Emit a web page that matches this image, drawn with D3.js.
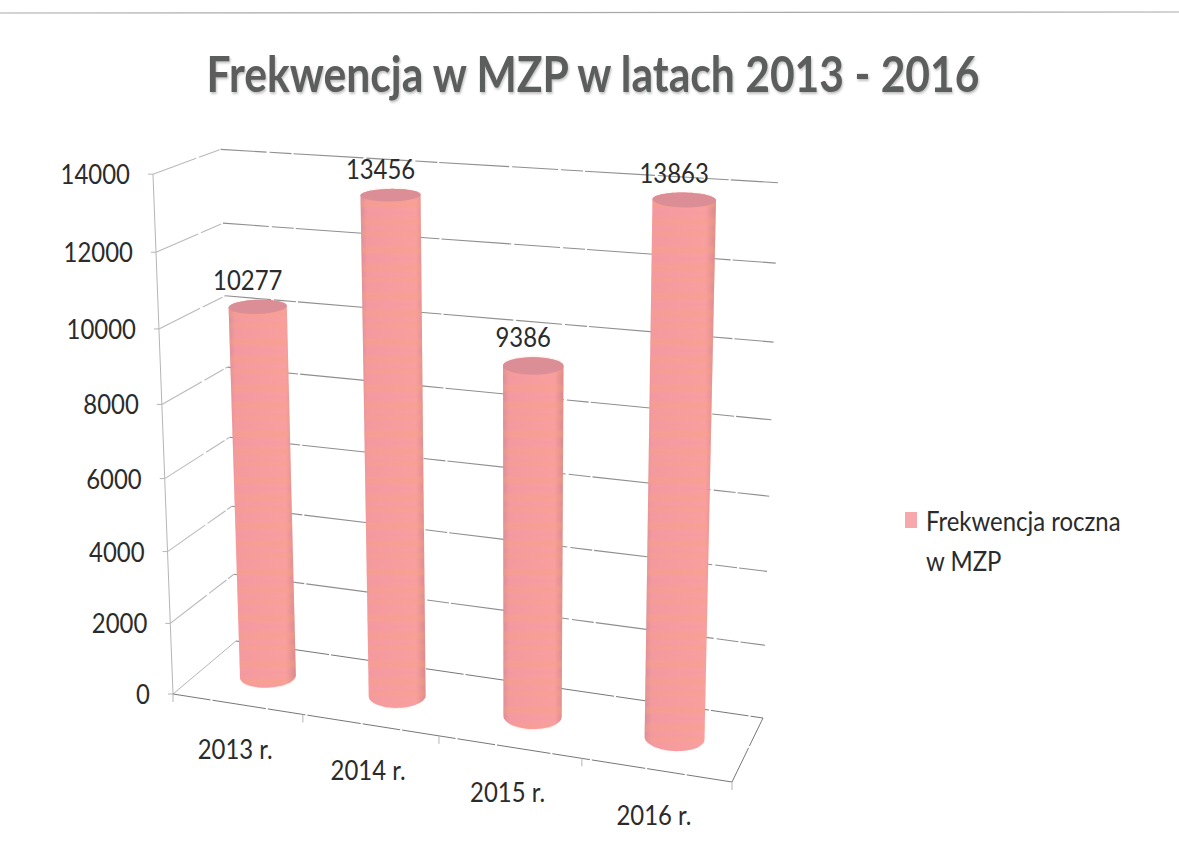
<!DOCTYPE html>
<html>
<head>
    <title>Frekwencja w MZP</title>
    <script src="https://d3js.org/d3.v7.min.js"></script>
    <style>
        html, body { margin: 0; padding: 0; background: #fff; }
        svg { display: block; }
        text { font-family: Lato, "Open Sans", sans-serif; fill: #2b2b2b; }
        .title { font-size: 49px; font-weight: 700; fill: #5b5e5d; filter: drop-shadow(1px 2px 1px rgba(120,120,120,.45)); }
        .tick-label { font-size: 26px; }
        .grid { fill: none; stroke: #8f8f8f; stroke-width: 1.1; stroke-dasharray: 46 3 22 2 70 3; }
        .wall { fill: none; stroke: #b5b5b5; stroke-width: 1; }
        .floor { fill: none; stroke: #777; stroke-width: 1; stroke-dasharray: 38 2 54 2; }
    </style>
</head>
<body>
    <svg width="1179" height="861"></svg>
    <script>
        var chartTitle = "Frekwencja w MZP w latach 2013 - 2016";
        var years = ["2013 r.", "2014 r.", "2015 r.", "2016 r."];
        var frekwencja = [10277, 13456, 9386, 13863];
        var yTicks = [0, 2000, 4000, 6000, 8000, 10000, 12000, 14000];
        var legendLines = ["Frekwencja roczna", "w MZP"];

        var svg = d3.select("svg");

        // floor corners as seen in the picture: front left, front right, back right, back left
        var floorQuad = [[173, 694], [732, 782], [763, 718], [236, 641]];
        // the uprights of the 3d box all run towards this point far below the page
        var nadir = [515, 9580];

        // unit square -> quad
        function quadProject(q) {
            var dx1 = q[1][0] - q[2][0], dx2 = q[3][0] - q[2][0], sx = q[0][0] - q[1][0] + q[2][0] - q[3][0],
                dy1 = q[1][1] - q[2][1], dy2 = q[3][1] - q[2][1], sy = q[0][1] - q[1][1] + q[2][1] - q[3][1],
                den = dx1 * dy2 - dx2 * dy1,
                g = (sx * dy2 - dx2 * sy) / den,
                h = (dx1 * sy - sx * dy1) / den,
                a = q[1][0] - q[0][0] + g * q[1][0],
                b = q[3][0] - q[0][0] + h * q[3][0],
                d = q[1][1] - q[0][1] + g * q[1][1],
                e = q[3][1] - q[0][1] + h * q[3][1];
            return function(u, v) {
                var w = g * u + h * v + 1;
                return [(a * u + b * v + q[0][0]) / w, (d * u + e * v + q[0][1]) / w];
            };
        }

        var floorAt = quadProject(floorQuad);

        var x = d3.scaleBand().domain(years).range([0, 1]);
        var y = d3.scaleLinear().domain([0, 14000]).range([0, 1]);

        function project(u, v, value) {
            var p = floorAt(u, v), t = y(value);
            t = t / (1 + 0.06 * (1 - t)); // upper gridlines sit further apart
            var s = (0.0585 + 0.0054 * u - 0.0035 * v) * t;
            return [p[0] + (p[0] - nadir[0]) * s, p[1] + (p[1] - nadir[1]) * s];
        }

        // Calibri is narrower than Lato, squeeze the glyphs to the same width
        function squeeze(sel, k) {
            sel.each(function() {
                d3.select(this).attr("textLength", this.getComputedTextLength() * k)
                    .attr("lengthAdjust", "spacingAndGlyphs");
            });
        }

        var defs = svg.append("defs");

        var shade = defs.append("linearGradient").attr("id", "shade");
        shade.append("stop").attr("offset", "0%").attr("stop-color", "#d58c9c");
        shade.append("stop").attr("offset", "10%").attr("stop-color", "#f497a6");
        shade.append("stop").attr("offset", "85%").attr("stop-color", "#f99ea6");
        shade.append("stop").attr("offset", "100%").attr("stop-color", "#d6868c");

        // the scan leaves soft horizontal bands on the columns
        var stripes = defs.append("pattern").attr("id", "stripes")
            .attr("patternUnits", "userSpaceOnUse").attr("width", 10).attr("height", 46);
        [[0, 7, .4], [9, 5, .22], [16, 8, .46], [27, 4, .18], [33, 9, .42], [43, 2, .15]].forEach(function(s) {
            stripes.append("rect").attr("y", s[0]).attr("width", 10).attr("height", s[1])
                .attr("fill", "#f7a27c").attr("opacity", s[2]);
        });
        defs.append("filter").attr("id", "soft")
            .append("feGaussianBlur").attr("stdDeviation", "0 1.4");

        // title and the line left by the scanner
        svg.append("line").attr("x1", 0).attr("x2", 1179).attr("y1", 13).attr("y2", 12)
            .attr("stroke", "#a9a9a9").attr("stroke-width", 1.2);
        svg.append("text").attr("class", "title")
            .attr("x", 593).attr("y", 92)
            .attr("text-anchor", "middle")
            .attr("textLength", 773)
            .attr("lengthAdjust", "spacingAndGlyphs")
            .text(chartTitle);

        var segment = d3.line();

        // gridlines on the left and back walls
        yTicks.forEach(function(t) {
            if (t > 0) {
                svg.append("path").attr("class", "grid").style("stroke", "#b9b9b9")
                    .attr("d", segment([project(0, 0, t), project(0, 1, t)]));
                svg.append("path").attr("class", "grid")
                    .attr("d", segment([project(0, 1, t), project(1, 1, t)]));
            }
            var p = project(0, 0, t);
            svg.append("path").attr("class", "wall").attr("d", segment([[p[0] - 5, p[1]], p]));
            svg.append("text").attr("class", "tick-label")
                .attr("x", p[0] - 23).attr("y", p[1] + 10)
                .attr("text-anchor", "end")
                .text(t)
                .call(squeeze, 0.92);
        });

        // left wall edge
        svg.append("path").attr("class", "wall").attr("d", segment([project(0, 0, 0), project(0, 0, 14000)]));

        // floor
        svg.append("path").attr("class", "wall").attr("d", segment([project(0, 0, 0), project(0, 1, 0)]));
        svg.append("path").attr("class", "floor").attr("d", segment([project(0, 1, 0), project(1, 1, 0)]));
        svg.append("path").attr("class", "floor").attr("d", segment([project(0, 0, 0), project(1, 0, 0)]));
        svg.append("path").attr("class", "floor").attr("d", segment([project(1, 0, 0), project(1, 1, 0)]));

        // category ticks and labels
        years.forEach(function(c, i) {
            var p = project(x(c), 0, 0);
            svg.append("path").attr("class", "wall").attr("d", segment([p, [p[0], p[1] + 8]]));
            var m = project(x(c) + x.bandwidth() / 2, 0, 0);
            svg.append("text").attr("class", "tick-label")
                .attr("x", m[0] - 2).attr("y", m[1] + 55)
                .attr("text-anchor", "middle")
                .text(c)
                .call(squeeze, 0.92);
        });
        var pEnd = project(1, 0, 0);
        svg.append("path").attr("class", "wall").attr("d", segment([pEnd, [pEnd[0], pEnd[1] + 8]]));

        // columns
        var ru = 0.05, rv = 0.2;
        var angles = d3.range(0, 360, 6).map(function(a) { return a * Math.PI / 180; });

        function ring(c, value) {
            var u = x(c) + x.bandwidth() / 2;
            return angles.map(function(a) {
                return project(u + ru * Math.cos(a), 0.5 + rv * Math.sin(a), value);
            });
        }

        var ringPath = d3.line().curve(d3.curveLinearClosed);

        years.forEach(function(c, i) {
            var bottom = ring(c, 0),
                cap = ring(c, frekwencja[i]),
                hull = d3.polygonHull(bottom.concat(cap)),
                g = svg.append("g");

            g.append("path").attr("d", ringPath(hull)).attr("fill", "url(#shade)");
            g.append("path").attr("d", ringPath(hull)).attr("fill", "url(#stripes)").attr("filter", "url(#soft)");
            g.append("path").attr("d", ringPath(cap)).attr("fill", "#dc8e96");

            var head = project(x(c) + x.bandwidth() / 2, 0.5, frekwencja[i]),
                topEdge = d3.min(cap, function(p) { return p[1]; });
            svg.append("text").attr("class", "tick-label")
                .attr("x", head[0] - 10).attr("y", topEdge - 10)
                .attr("text-anchor", "middle")
                .text(frekwencja[i])
                .call(squeeze, 0.92);
        });

        // legend
        svg.append("rect").attr("x", 905).attr("y", 512).attr("width", 12).attr("height", 16)
            .attr("fill", "#f7a8ac");
        svg.selectAll(".legend-label").data(legendLines).enter().append("text")
            .attr("class", "legend-label")
            .attr("x", 926)
            .attr("y", function(d, i) { return 531 + i * 40; })
            .style("font-size", "26px")
            .text(function(d) { return d; })
            .call(squeeze, 0.92);
    </script>
</body>
</html>
